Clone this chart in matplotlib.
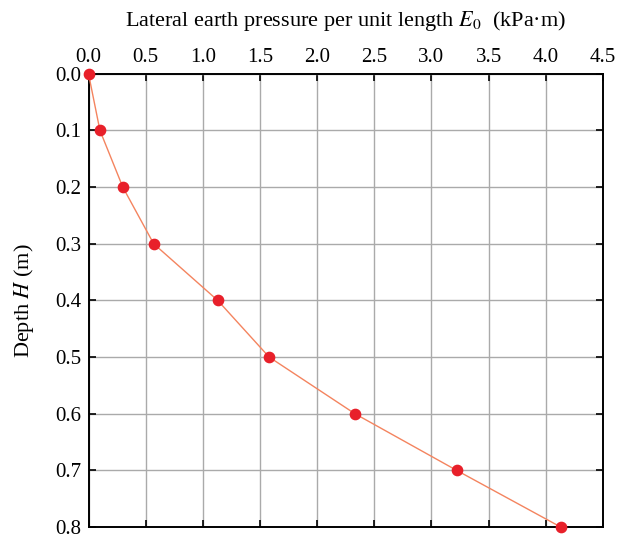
import matplotlib
matplotlib.use("Agg")
import matplotlib.pyplot as plt

# Lateral earth pressure per unit length vs. depth
depth_m = [0.0, 0.1, 0.2, 0.3, 0.4, 0.5, 0.6, 0.7, 0.8]
pressure_kpa_m = [0.0, 0.10, 0.30, 0.57, 1.13, 1.58, 2.33, 3.22, 4.13]
x_ticks = [0.0, 0.5, 1.0, 1.5, 2.0, 2.5, 3.0, 3.5, 4.0, 4.5]
y_ticks = [0.0, 0.1, 0.2, 0.3, 0.4, 0.5, 0.6, 0.7, 0.8]

plt.rcParams["font.family"] = ["Liberation Serif", "DejaVu Serif"]
plt.rcParams["mathtext.fontset"] = "stix"

fig = plt.figure(figsize=(6.19, 5.35), dpi=100)
ax = fig.add_axes([0.143, 0.015, 0.831, 0.847])

ax.plot(pressure_kpa_m, depth_m, color="#f4845f", lw=1.0, zorder=3,
        marker="o", markersize=7.4, markerfacecolor="#e8202a",
        markeredgecolor="#e8202a", clip_on=False)

ax.set_xlim(0, 4.5)
ax.set_ylim(0.8, 0.0)
ax.set_xticks(x_ticks)
ax.set_yticks(y_ticks)
ax.set_xticklabels([f"{v:.1f}" for v in x_ticks])
ax.set_yticklabels([f"{v:.1f}" for v in y_ticks])

ax.xaxis.set_ticks_position("both")
ax.yaxis.set_ticks_position("both")
ax.xaxis.set_label_position("top")
ax.tick_params(axis="both", which="both", direction="in", length=5, width=1.2,
               labelsize=15, colors="black", pad=5,
               labeltop=True, labelbottom=False, labelleft=True, labelright=False)

ax.grid(True, color="#aaaaaa", lw=1.0, zorder=0)
ax.set_axisbelow(True)
for sp in ax.spines.values():
    sp.set_linewidth(1.4)
    sp.set_color("black")

ax.set_xlabel(r"Lateral earth pressure per unit length $E_0$  (kPa·m)",
              fontsize=16, labelpad=16)
ax.set_ylabel(r"Depth $H$ (m)", fontsize=16, labelpad=14)

fig.savefig("out.png", dpi=100)
